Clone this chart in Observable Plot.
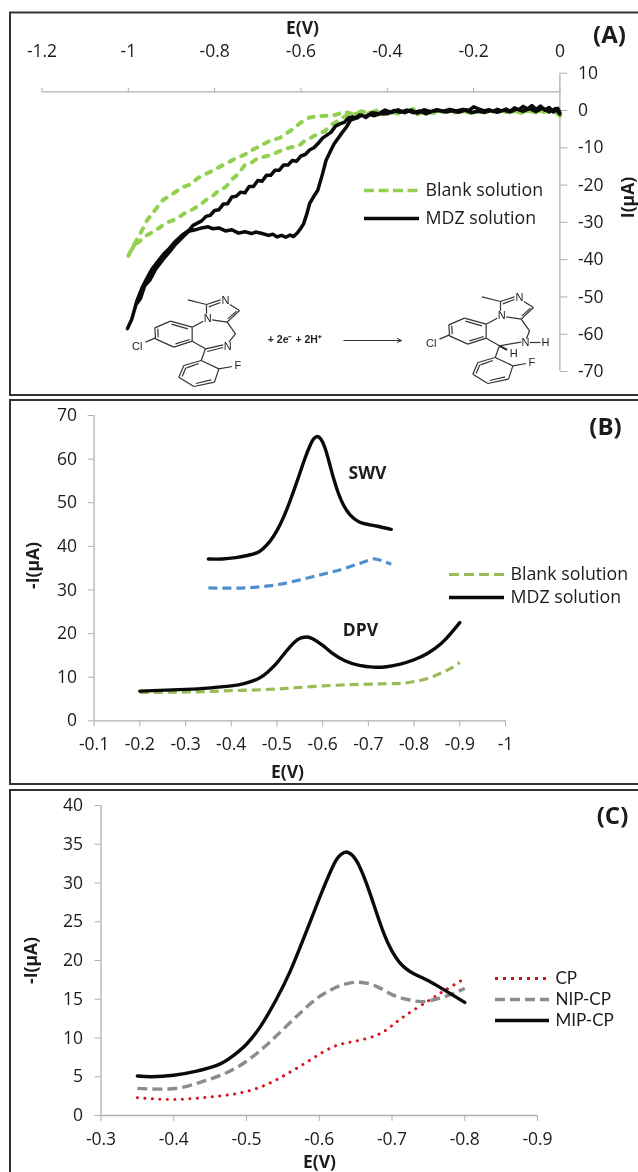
<!DOCTYPE html>
<html>
<head>
<meta charset="utf-8">
<script src="https://cdn.jsdelivr.net/npm/d3@7"></script>
<script src="https://cdn.jsdelivr.net/npm/@observablehq/plot@0.6"></script>
<style>
html,body{margin:0;padding:0;background:#fff;}
#page{position:relative;width:638px;height:1172px;overflow:hidden;filter:blur(0.35px);}
#page svg{position:absolute;overflow:visible;}
</style>
</head>
<body>
<div id="page"></div>
<script>
// ---------- Panel A: cyclic voltammograms [E, I]
const aMdz = [[0,-0.6],[-0.005,0.6],[-0.015,-0.4],[-0.025,0.8],[-0.035,0.1],[-0.045,1.2],[-0.055,0.3],[-0.065,1.3],[-0.075,0.4],[-0.085,1.1],[-0.095,0.2],[-0.105,0.7],[-0.115,-0.2],[-0.125,0.4],[-0.135,-0.1],[-0.145,0.3],[-0.155,-0.2],[-0.165,0.2],[-0.175,-0.1],[-0.19,0.5],[-0.2,1],[-0.21,0.1],[-0.225,0.3],[-0.24,-0.1],[-0.255,0.3],[-0.27,-0.2],[-0.285,0.2],[-0.3,-0.3],[-0.315,0.2],[-0.33,-0.7],[-0.345,0.1],[-0.36,-0.6],[-0.375,0.2],[-0.39,-0.6],[-0.405,0.1],[-0.42,-0.9],[-0.435,-0.6],[-0.45,-1.6],[-0.465,-1.2],[-0.475,-2.2],[-0.485,-2.6],[-0.495,-4.5],[-0.505,-6],[-0.523,-8.9],[-0.532,-11],[-0.542,-13.4],[-0.55,-17],[-0.561,-21.4],[-0.57,-23],[-0.58,-25],[-0.587,-28],[-0.594,-30.4],[-0.6,-31.5],[-0.608,-32.8],[-0.617,-33.8],[-0.625,-33.4],[-0.635,-34],[-0.645,-33.5],[-0.655,-33.9],[-0.665,-33.2],[-0.675,-33.5],[-0.69,-33],[-0.705,-32.6],[-0.715,-33],[-0.73,-32.5],[-0.745,-32.9],[-0.76,-32],[-0.775,-32.3],[-0.79,-31.5],[-0.805,-31.7],[-0.815,-31.2],[-0.83,-31.5],[-0.845,-32],[-0.86,-32.4],[-0.872,-33.7],[-0.89,-35.8],[-0.905,-38],[-0.92,-40],[-0.938,-42.8],[-0.95,-45.5],[-0.962,-47],[-0.972,-50.5],[-0.982,-52],[-0.992,-56],[-1.002,-58.5],[-0.992,-56],[-0.98,-51],[-0.968,-47.5],[-0.957,-45],[-0.945,-42.5],[-0.932,-40.5],[-0.918,-38.5],[-0.905,-37],[-0.89,-35],[-0.875,-33.4],[-0.86,-32.2],[-0.85,-30.8],[-0.84,-30.2],[-0.83,-29.6],[-0.82,-28.4],[-0.81,-28.1],[-0.8,-26.8],[-0.79,-26.6],[-0.78,-25.1],[-0.77,-25],[-0.76,-23.2],[-0.75,-23],[-0.74,-21.9],[-0.73,-22.1],[-0.72,-20.4],[-0.71,-20.4],[-0.7,-18.8],[-0.69,-19],[-0.68,-17.4],[-0.67,-17.4],[-0.66,-16],[-0.65,-16],[-0.64,-14.6],[-0.63,-14.6],[-0.62,-13.4],[-0.61,-13.6],[-0.6,-12.2],[-0.59,-11.8],[-0.58,-10.6],[-0.57,-10],[-0.56,-8.8],[-0.55,-7.4],[-0.54,-6.6],[-0.53,-5.8],[-0.52,-4.2],[-0.51,-3.6],[-0.5,-3.2],[-0.49,-2],[-0.48,-1.7],[-0.47,-2],[-0.46,-1.2],[-0.45,-1.9],[-0.44,-1.1],[-0.43,-1.4],[-0.415,-0.8],[-0.4,-0.9],[-0.385,0],[-0.37,-0.5],[-0.355,0.1],[-0.34,-0.6],[-0.325,-0.1],[-0.31,-0.9],[-0.295,-0.2],[-0.28,0],[-0.265,-0.4],[-0.25,-0.1],[-0.235,-0.5],[-0.22,0.1],[-0.205,-0.6],[-0.19,-0.2],[-0.175,-0.5],[-0.16,0],[-0.145,-0.5],[-0.13,0.1],[-0.115,-0.4],[-0.1,0.4],[-0.085,-0.2],[-0.07,0.5],[-0.055,-0.3],[-0.04,0.7],[-0.025,-0.4],[-0.01,0.5],[0,-1]];
const aBlank = [[0,-1.5],[-0.01,-0.4],[-0.03,-0.2],[-0.05,-0.7],[-0.07,-0.1],[-0.09,-0.6],[-0.11,-0.1],[-0.13,-0.5],[-0.15,-0.1],[-0.17,-0.6],[-0.19,-0.2],[-0.21,-0.6],[-0.23,-0.2],[-0.25,-0.7],[-0.27,-0.2],[-0.29,-0.8],[-0.31,-0.2],[-0.33,-1],[-0.35,0.1],[-0.37,-1.1],[-0.39,-0.3],[-0.41,-1],[-0.43,-0.2],[-0.45,-1],[-0.47,-0.8],[-0.49,-1.1],[-0.505,-2],[-0.52,-3.2],[-0.535,-4.2],[-0.545,-5.6],[-0.56,-6.2],[-0.575,-7.2],[-0.59,-8],[-0.605,-9.5],[-0.62,-9.8],[-0.635,-10.2],[-0.655,-11.2],[-0.67,-12],[-0.685,-12.4],[-0.7,-12.8],[-0.715,-14],[-0.73,-14.6],[-0.745,-17],[-0.76,-18.5],[-0.775,-20.6],[-0.79,-21.4],[-0.805,-23],[-0.82,-24],[-0.835,-25.4],[-0.855,-26.8],[-0.87,-27.6],[-0.89,-29.2],[-0.905,-29.8],[-0.92,-30.8],[-0.94,-32.4],[-0.96,-33.6],[-0.975,-35.2],[-0.99,-36.2],[-0.985,-35.8],[-1,-39],[-0.985,-35.6],[-0.972,-33],[-0.957,-29.5],[-0.94,-27],[-0.92,-24],[-0.9,-22.6],[-0.885,-21.4],[-0.872,-20.5],[-0.855,-19.8],[-0.84,-18.2],[-0.82,-17],[-0.806,-16.2],[-0.79,-15.2],[-0.77,-14],[-0.75,-12.8],[-0.73,-11.8],[-0.71,-10.4],[-0.69,-9.2],[-0.67,-8],[-0.65,-7.4],[-0.635,-6.2],[-0.617,-4.9],[-0.6,-3.2],[-0.58,-1.9],[-0.56,-1.5],[-0.54,-1.4],[-0.52,-1.2],[-0.5,-0.4],[-0.48,-0.9],[-0.46,-0.2],[-0.44,-0.7],[-0.42,0.2],[-0.4,-0.6],[-0.38,0.1],[-0.36,-0.5],[-0.34,0.4],[-0.32,-0.4],[-0.3,0],[-0.27,-0.3],[-0.24,-0.1],[-0.2,-0.3],[-0.15,-0.1],[-0.1,-0.2],[-0.05,-0.1],[0,-0.2]];
const aXTicks = [-1.2,-1,-0.8,-0.6,-0.4,-0.2,0];
const aYTicks = [10,0,-10,-20,-30,-40,-50,-60,-70];

// ---------- Panel B: [E, -I]
const bSwv = [[-0.35,37.1],[-0.38,37.1],[-0.41,37.4],[-0.435,37.9],[-0.456,38.5],[-0.47,39.5],[-0.485,41.2],[-0.5,43.6],[-0.515,46.8],[-0.53,50.8],[-0.545,55.2],[-0.56,59.8],[-0.572,63],[-0.58,64.6],[-0.588,65.2],[-0.596,64.6],[-0.605,62.6],[-0.615,59],[-0.625,55.2],[-0.635,52],[-0.645,49.6],[-0.66,47.2],[-0.68,45.6],[-0.7,45],[-0.72,44.6],[-0.75,43.9]];
const bSwvBlank = [[-0.35,30.5],[-0.4,30.4],[-0.45,30.6],[-0.5,31.2],[-0.55,32.3],[-0.6,33.6],[-0.65,35],[-0.7,36.8],[-0.715,37.1],[-0.73,36.7],[-0.75,35.9]];
const bDpv = [[-0.2,6.8],[-0.3,7.2],[-0.35,7.5],[-0.4,8],[-0.43,8.6],[-0.46,9.7],[-0.48,11.2],[-0.5,13.3],[-0.52,15.9],[-0.54,18.2],[-0.553,19],[-0.565,19.2],[-0.578,18.8],[-0.6,17.3],[-0.62,15.6],[-0.65,13.7],[-0.68,12.7],[-0.71,12.3],[-0.74,12.4],[-0.77,13],[-0.8,14],[-0.83,15.5],[-0.86,17.8],[-0.88,20],[-0.9,22.5]];
const bDpvBlank = [[-0.2,6.5],[-0.3,6.6],[-0.4,6.9],[-0.5,7.3],[-0.6,8],[-0.7,8.4],[-0.77,8.6],[-0.8,9],[-0.83,9.7],[-0.86,11],[-0.88,12],[-0.9,13.4]];
const bXTicks = [-0.1,-0.2,-0.3,-0.4,-0.5,-0.6,-0.7,-0.8,-0.9,-1];
const bYTicks = [0,10,20,30,40,50,60,70];

// ---------- Panel C: [E, -I]
const cMip = [[-0.35,5.1],[-0.37,5],[-0.4,5.2],[-0.43,5.7],[-0.46,6.5],[-0.48,7.6],[-0.5,9.2],[-0.52,11.6],[-0.54,14.8],[-0.56,18.6],[-0.58,23.2],[-0.6,28],[-0.62,32.4],[-0.63,33.7],[-0.637,34],[-0.645,33.6],[-0.655,32.2],[-0.67,28.6],[-0.69,23.2],[-0.71,19.8],[-0.73,18.3],[-0.75,17.4],[-0.77,16.3],[-0.8,14.6]];
const cNip = [[-0.35,3.5],[-0.38,3.4],[-0.41,3.6],[-0.44,4.4],[-0.47,5.4],[-0.5,7],[-0.53,9.3],[-0.56,12],[-0.59,14.6],[-0.61,15.9],[-0.63,16.8],[-0.655,17.2],[-0.68,16.6],[-0.7,15.6],[-0.72,15],[-0.74,14.7],[-0.76,15],[-0.78,15.6],[-0.8,16.4]];
const cCp = [[-0.35,2.3],[-0.38,2.1],[-0.41,2.1],[-0.44,2.3],[-0.47,2.6],[-0.5,3.1],[-0.53,4.1],[-0.56,5.6],[-0.59,7.3],[-0.62,8.9],[-0.65,9.6],[-0.68,10.4],[-0.7,11.6],[-0.72,13],[-0.75,14.8],[-0.77,16],[-0.795,17.4]];
const cXTicks = [-0.3,-0.4,-0.5,-0.6,-0.7,-0.8,-0.9];
const cYTicks = [0,5,10,15,20,25,30,35,40];

// ---------- Colours and text
const black = "#0a0a0a", green = "#92d050", olive = "#9bbb59", blue = "#4f8fcf", grey = "#8c8c8c", red = "#d8141c", axisGrey = "#b0b0b0", ink = "#1c1c1c";
const FONT = "'Open Sans', Lato, sans-serif";

const page = document.getElementById("page");
const fmt = d => String(d);
function place(svg, left, top) { svg.style.left = left + "px"; svg.style.top = top + "px"; svg.style.maxWidth = "none"; page.appendChild(svg); }
const base = { style: { fontFamily: FONT, fontSize: "17.5px", background: "transparent", color: ink } };
const curve = (d, stroke, w, dash, c, cap) => Plot.line(d, { x: "0", y: "1", stroke, strokeWidth: w, strokeDasharray: dash, curve: c, strokeLinejoin: "round", strokeLinecap: cap || "butt" });

// Panel A
place(Plot.plot({
  ...base, width: 638, height: 397, marginTop: 90.7, marginRight: 78.6, marginLeft: 0, marginBottom: 0,
  x: { domain: [-1.2, 0], range: [41.5, 559.4] },
  y: { domain: [10, -70], range: [72.7, 371] },
  marks: [
    Plot.ruleY([5], { x1: -1.2, x2: 0, stroke: axisGrey, strokeWidth: 1.3 }),
    Plot.ruleX([0], { y1: 10, y2: -70, stroke: axisGrey, strokeWidth: 1.3 }),
    Plot.axisX(aXTicks, { anchor: "top", tickSize: 4, tickPadding: 30, tickFormat: fmt, stroke: axisGrey, fill: ink, label: null }),
    Plot.axisY(aYTicks, { anchor: "right", tickSize: 7, tickPadding: 11, tickFormat: fmt, stroke: axisGrey, fill: ink, label: null }),
    curve(aBlank, green, 4, "5 8", "linear", "round"),
    curve(aMdz, black, 3.5, null, "linear", "round")
  ]
}), 0, 0);

// Panel B (own svg starts at y = 397)
place(Plot.plot({
  ...base, width: 638, height: 391, marginTop: 18, marginRight: 0, marginLeft: 93.6, marginBottom: 67.7,
  x: { domain: [-0.1, -1], range: [93.6, 505] },
  y: { domain: [70, 0], range: [18, 323.3] },
  marks: [
    Plot.ruleY([0], { x1: -0.1, x2: -1, stroke: axisGrey, strokeWidth: 1.3 }),
    Plot.ruleX([-0.1], { y1: 0, y2: 70, stroke: axisGrey, strokeWidth: 1.3 }),
    Plot.axisX(bXTicks, { anchor: "bottom", tickSize: 6, tickPadding: 11, tickFormat: fmt, stroke: axisGrey, fill: ink, label: null }),
    Plot.axisY(bYTicks, { anchor: "left", tickSize: 6, tickPadding: 11, tickFormat: fmt, stroke: axisGrey, fill: ink, label: null }),
    curve(bSwvBlank, blue, 3.2, "9 5", "natural"),
    curve(bDpvBlank, olive, 3.2, "9 5", "natural"),
    curve(bSwv, black, 3.4, null, "natural", "round"),
    curve(bDpv, black, 3.4, null, "natural", "round")
  ]
}), 0, 397);

// Panel C (own svg starts at y = 788)
place(Plot.plot({
  ...base, width: 638, height: 384, marginTop: 17, marginRight: 0, marginLeft: 100.5, marginBottom: 57,
  x: { domain: [-0.3, -0.9], range: [100.5, 537] },
  y: { domain: [40, 0], range: [17, 327] },
  marks: [
    Plot.ruleY([0], { x1: -0.3, x2: -0.9, stroke: axisGrey, strokeWidth: 1.3 }),
    Plot.ruleX([-0.3], { y1: 0, y2: 40, stroke: axisGrey, strokeWidth: 1.3 }),
    Plot.axisX(cXTicks, { anchor: "bottom", tickSize: 6, tickPadding: 11, tickFormat: fmt, stroke: axisGrey, fill: ink, label: null }),
    Plot.axisY(cYTicks, { anchor: "left", tickSize: 6, tickPadding: 12, tickFormat: fmt, stroke: axisGrey, fill: ink, label: null }),
    curve(cCp, red, 3, "0.1 7.4", "natural", "round"),
    curve(cNip, grey, 3.4, "10 5", "natural"),
    curve(cMip, black, 3.4, null, "natural", "round")
  ]
}), 0, 788);

// ---------- Midazolam reaction scheme, in its own drawing units
const molShared = [[105,185,135,172],[133,142,135,175],[133,142,180,122],[180,122,245,140],[245,140,245,182],[245,182,190,200],[190,200,135,175],[142,145,143,170],[183,131,232,145],[195,190,238,177],[245,140,278,122],[288,100,288,72],[232,58,288,72],[288,72,330,58],[295,79,330,66],[358,72,387,90],[387,90,350,125],[378,92,352,115],[350,125,305,118],[350,125,375,160],[245,182,285,205],[285,205,272,240],[272,240,325,265],[325,265,312,305],[312,305,250,318],[250,318,205,290],[205,290,220,255],[220,255,272,240],[228,262,265,249],[302,298,256,309],[215,288,226,262],[325,265,365,258]];
const molLeftOnly = [[375,160,355,185],[285,205,338,193],[290,213,338,201]];
const molRightOnly = [[1257,151,1248,175],[1167,196,1232,185],[1258,186,1290,186]];
const molRightWedge = [[1167,196,1190,208]];
const molOffset = [882, -9];
const molBonds = [...molShared, ...molLeftOnly, ...molRightOnly, ...molShared.map(([a,b,c,d]) => [a+molOffset[0], b+molOffset[1], c+molOffset[0], d+molOffset[1]])];
const molAtoms = [["N",345,60],["N",292,115],["N",352,197],["Cl",80,198],["F",382,255],["N",1227,51],["N",1174,106],["N",1245,186],["H",1305,186],["H",1210,220],["Cl",962,189],["F",1264,246]];
const reactionText = "+ 2e\u207B + 2H\u207A";
place(Plot.plot({
  width: 450, height: 115, margin: 0, style: { background: "transparent", fontFamily: "Arial, 'Liberation Sans', sans-serif" },
  x: { domain: [0, 1350], range: [0, 450], axis: null },
  y: { domain: [0, 345], range: [0, 115], axis: null },
  marks: [
    Plot.link(molBonds, { x1: "0", y1: "1", x2: "2", y2: "3", stroke: "#333", strokeWidth: 1.2 }),
    Plot.link(molRightWedge, { x1: "0", y1: "1", x2: "2", y2: "3", stroke: "#222", strokeWidth: 2 }),
    Plot.text(molAtoms, { x: "1", y: "2", text: "0", fontSize: 11, fill: "#222" }),
    Plot.text([reactionText], { x: 553, y: 177, text: d => d, fontSize: 10.5, fontWeight: 700, fill: "#222" }),
    Plot.arrow([[700,180,873,180]], { x1: "0", y1: "1", x2: "2", y2: "3", stroke: "#333", strokeWidth: 1, headLength: 7, headAngle: 50 })
  ]
}), 110, 280);

// ---------- Frames, titles, legends: page-level overlay in page pixels
const frames = [[10,12.5,660,395],[10,400,660,784],[10,790,660,1200]];
const panelTags = [["(A)",609,35],["(B)",605,427],["(C)",612,816]];
const boldLabels = [["E(V)",302,28],["E(V)",287,772],["E(V)",319,1162],["SWV",367,473],["DPV",360,630]];
const rotatedLabels = [["I(\u00B5A)",628,197],["-I(\u00B5A)",33,565],["-I(\u00B5A)",30.5,960]];
const legendText = [["Blank solution",425,190],["MDZ solution",425,218],["Blank solution",510,574],["MDZ solution",510,597]];
const legendTextC = [["CP",555,978],["NIP-CP",555,999],["MIP-CP",555,1020]];
const legendKeys = [
  [364,419,190,green,3.6,"10 4.5"],[364,419,218,black,3.4,null],
  [449,504,574,olive,3.2,"10 5"],[449,504,597,black,3.4,null],
  [495,549,978,red,3,"3 5"],[495,549,999,grey,3.4,"10 5"],[495,549,1020,black,3.4,null]
];
const tx = (d, o) => Plot.text(d, { x: "1", y: "2", text: "0", fill: ink, ...o });
place(Plot.plot({
  width: 638, height: 1172, margin: 0, style: { background: "transparent", fontFamily: FONT },
  x: { domain: [0, 638], range: [0, 638], axis: null },
  y: { domain: [0, 1172], range: [0, 1172], axis: null },
  marks: [
    Plot.rect(frames, { x1: "0", y1: "1", x2: "2", y2: "3", fill: "none", stroke: "#333", strokeWidth: 2 }),
    tx(panelTags, { fontSize: 24, fontWeight: 700 }),
    tx(boldLabels, { fontSize: 17.5, fontWeight: 700 }),
    ...rotatedLabels.map(r => tx([r], { fontSize: 17.5, fontWeight: 700, rotate: -90 })),
    tx(legendText, { fontSize: 17.8, textAnchor: "start" }),
    tx(legendTextC, { fontSize: 17, textAnchor: "start", fontFamily: "Lato, sans-serif" }),
    ...legendKeys.map(k => Plot.ruleY([k[2]], { x1: k[0], x2: k[1], stroke: k[3], strokeWidth: k[4], strokeDasharray: k[5] }))
  ]
}), 0, 0);
</script>
</body>
</html>
